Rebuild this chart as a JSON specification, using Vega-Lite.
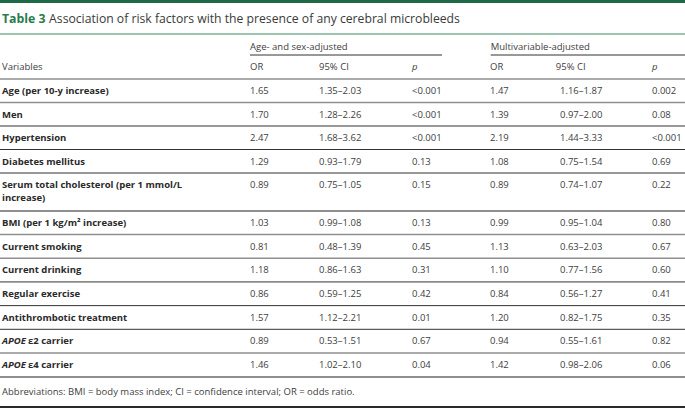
{
  "$schema": "https://vega.github.io/schema/vega-lite/v6.json",
  "width": 685,
  "height": 409,
  "padding": 0,
  "autosize": {"type": "none"},
  "background": "white",
  "config": {
    "view": {"stroke": null},
    "text": {"font": "Open Sans", "fontSize": 9.5, "color": "#404040", "align": "left", "baseline": "middle"},
    "axis": {"disable": true}
  },
  "datasets": {
    "one": [{}],
    "rows": [
      {"var": "Age (per 10-y increase)", "or1": "1.65", "ci1": "1.35–2.03", "p1": "<0.001", "or2": "1.47", "ci2": "1.16–1.87", "p2": "0.002"},
      {"var": "Men", "or1": "1.70", "ci1": "1.28–2.26", "p1": "<0.001", "or2": "1.39", "ci2": "0.97–2.00", "p2": "0.08"},
      {"var": "Hypertension", "or1": "2.47", "ci1": "1.68–3.62", "p1": "<0.001", "or2": "2.19", "ci2": "1.44–3.33", "p2": "<0.001"},
      {"var": "Diabetes mellitus", "or1": "1.29", "ci1": "0.93–1.79", "p1": "0.13", "or2": "1.08", "ci2": "0.75–1.54", "p2": "0.69"},
      {"var": "Serum total cholesterol (per 1 mmol/L\nincrease)", "or1": "0.89", "ci1": "0.75–1.05", "p1": "0.15", "or2": "0.89", "ci2": "0.74–1.07", "p2": "0.22"},
      {"var": "BMI (per 1 kg/m² increase)", "or1": "1.03", "ci1": "0.99–1.08", "p1": "0.13", "or2": "0.99", "ci2": "0.95–1.04", "p2": "0.80"},
      {"var": "Current smoking", "or1": "0.81", "ci1": "0.48–1.39", "p1": "0.45", "or2": "1.13", "ci2": "0.63–2.03", "p2": "0.67"},
      {"var": "Current drinking", "or1": "1.18", "ci1": "0.86–1.63", "p1": "0.31", "or2": "1.10", "ci2": "0.77–1.56", "p2": "0.60"},
      {"var": "Regular exercise", "or1": "0.86", "ci1": "0.59–1.25", "p1": "0.42", "or2": "0.84", "ci2": "0.56–1.27", "p2": "0.41"},
      {"var": "Antithrombotic treatment", "or1": "1.57", "ci1": "1.12–2.21", "p1": "0.01", "or2": "1.20", "ci2": "0.82–1.75", "p2": "0.35"},
      {"var": "ε2 carrier", "ital": "APOE", "or1": "0.89", "ci1": "0.53–1.51", "p1": "0.67", "or2": "0.94", "ci2": "0.55–1.61", "p2": "0.82"},
      {"var": "ε4 carrier", "ital": "APOE", "or1": "1.46", "ci1": "1.02–2.10", "p1": "0.04", "or2": "1.42", "ci2": "0.98–2.06", "p2": "0.06"}
    ]
  },
  "layer": [
    {
      "data": {"name": "one"},
      "mark": {"type": "rule", "color": "#1f6b47", "strokeWidth": 3},
      "encoding": {
        "x": {"datum": -1, "type": "quantitative", "axis": null, "scale": {"type": "linear", "domain": [-1, 0, 1, 2, 3, 4, 5, 6, 7], "range": [0, 2, 250, 319, 412, 490, 560, 652, 685], "zero": false, "nice": false}},
        "x2": {"datum": 7},
        "y": {"datum": -6, "type": "quantitative", "axis": null, "scale": {"type": "linear", "domain": [-6, -5, -4, -3, -2, -1, -0.5, 1, 5, 5.5, 12, 12.5, 13, 14], "range": [1.5, 19, 34, 47, 55, 67, 79, 91, 185, 211, 365, 377, 392, 407], "zero": false, "nice": false}}
      }
    },
    {
      "data": {"name": "one"},
      "mark": {"type": "rule", "color": "#3d8a60", "strokeWidth": 1.2},
      "encoding": {"x": {"datum": -1, "type": "quantitative"}, "x2": {"datum": 7}, "y": {"datum": -4, "type": "quantitative"}}
    },
    {
      "data": {"name": "one"},
      "mark": {"type": "text", "text": "Table 3", "fontWeight": "bold", "fontSize": 12.3, "color": "#2b7a4f"},
      "encoding": {"x": {"datum": 0, "type": "quantitative"}, "y": {"datum": -5, "type": "quantitative"}}
    },
    {
      "data": {"name": "one"},
      "mark": {"type": "text", "text": "Association of risk factors with the presence of any cerebral microbleeds", "fontSize": 12.2, "color": "#3a3a3a"},
      "encoding": {"x": {"datum": 0.19, "type": "quantitative"}, "y": {"datum": -5, "type": "quantitative"}}
    },
    {
      "data": {"name": "one"},
      "mark": {"type": "text", "text": "Age- and sex-adjusted"},
      "encoding": {"x": {"datum": 1, "type": "quantitative"}, "y": {"datum": -3, "type": "quantitative"}}
    },
    {
      "data": {"name": "one"},
      "mark": {"type": "text", "text": "Multivariable-adjusted"},
      "encoding": {"x": {"datum": 4.01, "type": "quantitative"}, "y": {"datum": -3, "type": "quantitative"}}
    },
    {
      "data": {"name": "one"},
      "mark": {"type": "rule", "color": "#333333", "strokeWidth": 1},
      "encoding": {"x": {"datum": 1, "type": "quantitative"}, "x2": {"datum": 3.385}, "y": {"datum": -2, "type": "quantitative"}}
    },
    {
      "data": {"name": "one"},
      "mark": {"type": "rule", "color": "#333333", "strokeWidth": 1},
      "encoding": {"x": {"datum": 4.01, "type": "quantitative"}, "x2": {"datum": 7}, "y": {"datum": -2, "type": "quantitative"}}
    },
    {
      "data": {"name": "one"},
      "mark": {"type": "text", "text": "Variables"},
      "encoding": {"x": {"datum": 0, "type": "quantitative"}, "y": {"datum": -1, "type": "quantitative"}}
    },
    {
      "data": {"name": "one"},
      "mark": {"type": "text", "text": "OR"},
      "encoding": {"x": {"datum": 1, "type": "quantitative"}, "y": {"datum": -1, "type": "quantitative"}}
    },
    {
      "data": {"name": "one"},
      "mark": {"type": "text", "text": "95% CI"},
      "encoding": {"x": {"datum": 2, "type": "quantitative"}, "y": {"datum": -1, "type": "quantitative"}}
    },
    {
      "data": {"name": "one"},
      "mark": {"type": "text", "text": "p", "fontStyle": "italic"},
      "encoding": {"x": {"datum": 3, "type": "quantitative"}, "y": {"datum": -1, "type": "quantitative"}}
    },
    {
      "data": {"name": "one"},
      "mark": {"type": "text", "text": "OR"},
      "encoding": {"x": {"datum": 4, "type": "quantitative"}, "y": {"datum": -1, "type": "quantitative"}}
    },
    {
      "data": {"name": "one"},
      "mark": {"type": "text", "text": "95% CI"},
      "encoding": {"x": {"datum": 4.94, "type": "quantitative"}, "y": {"datum": -1, "type": "quantitative"}}
    },
    {
      "data": {"name": "one"},
      "mark": {"type": "text", "text": "p", "fontStyle": "italic"},
      "encoding": {"x": {"datum": 6, "type": "quantitative"}, "y": {"datum": -1, "type": "quantitative"}}
    },
    {
      "data": {"name": "rows"},
      "transform": [{"window": [{"op": "row_number", "as": "row"}]}, {"filter": {"field": "row", "oneOf": [1, 2, 7, 8, 12]}}],
      "mark": {"type": "rule", "color": "#8f8f8f", "strokeWidth": 1.5, "yOffset": -12},
      "encoding": {"x": {"datum": -1, "type": "quantitative"}, "x2": {"datum": 7}, "y": {"field": "row", "type": "quantitative"}}
    },
    {
      "data": {"name": "rows"},
      "transform": [{"window": [{"op": "row_number", "as": "row"}]}, {"filter": {"field": "row", "oneOf": [3, 4, 5, 9, 10, 11]}}],
      "mark": {"type": "rule", "color": "#333333", "strokeWidth": 1, "yOffset": -12},
      "encoding": {"x": {"datum": -1, "type": "quantitative"}, "x2": {"datum": 7}, "y": {"field": "row", "type": "quantitative"}}
    },
    {
      "data": {"name": "one"},
      "mark": {"type": "rule", "color": "#8f8f8f", "strokeWidth": 2},
      "encoding": {"x": {"datum": -1, "type": "quantitative"}, "x2": {"datum": 7}, "y": {"datum": 5.5, "type": "quantitative"}}
    },
    {
      "data": {"name": "one"},
      "mark": {"type": "rule", "color": "#8f8f8f", "strokeWidth": 2},
      "encoding": {"x": {"datum": -1, "type": "quantitative"}, "x2": {"datum": 7}, "y": {"datum": 12.5, "type": "quantitative"}}
    },
    {
      "data": {"name": "one"},
      "mark": {"type": "rule", "color": "#2a2a2a", "strokeWidth": 2},
      "encoding": {"x": {"datum": -1, "type": "quantitative"}, "x2": {"datum": 7}, "y": {"datum": 14, "type": "quantitative"}}
    },
    {
      "data": {"name": "rows"},
      "transform": [{"window": [{"op": "row_number", "as": "row"}]}, {"filter": "!datum.ital"}],
      "mark": {"type": "text", "fontWeight": "bold", "color": "#2a2a2a", "baseline": "alphabetic", "dy": 3, "lineBreak": "\n", "lineHeight": 13},
      "encoding": {"x": {"datum": 0, "type": "quantitative"}, "y": {"field": "row", "type": "quantitative"}, "text": {"field": "var"}}
    },
    {
      "data": {"name": "rows"},
      "transform": [{"window": [{"op": "row_number", "as": "row"}]}, {"filter": "datum.ital"}],
      "mark": {"type": "text", "fontWeight": "bold", "fontStyle": "italic", "color": "#2a2a2a"},
      "encoding": {"x": {"datum": 0, "type": "quantitative"}, "y": {"field": "row", "type": "quantitative"}, "text": {"field": "ital"}}
    },
    {
      "data": {"name": "rows"},
      "transform": [{"window": [{"op": "row_number", "as": "row"}]}, {"filter": "datum.ital"}],
      "mark": {"type": "text", "fontWeight": "bold", "color": "#2a2a2a", "dx": 26},
      "encoding": {"x": {"datum": 0, "type": "quantitative"}, "y": {"field": "row", "type": "quantitative"}, "text": {"field": "var"}}
    },
    {
      "data": {"name": "rows"},
      "transform": [{"window": [{"op": "row_number", "as": "row"}]}],
      "mark": {"type": "text"},
      "encoding": {"x": {"datum": 1, "type": "quantitative"}, "y": {"field": "row", "type": "quantitative"}, "text": {"field": "or1"}}
    },
    {
      "data": {"name": "rows"},
      "transform": [{"window": [{"op": "row_number", "as": "row"}]}],
      "mark": {"type": "text"},
      "encoding": {"x": {"datum": 2, "type": "quantitative"}, "y": {"field": "row", "type": "quantitative"}, "text": {"field": "ci1"}}
    },
    {
      "data": {"name": "rows"},
      "transform": [{"window": [{"op": "row_number", "as": "row"}]}],
      "mark": {"type": "text"},
      "encoding": {"x": {"datum": 3, "type": "quantitative"}, "y": {"field": "row", "type": "quantitative"}, "text": {"field": "p1"}}
    },
    {
      "data": {"name": "rows"},
      "transform": [{"window": [{"op": "row_number", "as": "row"}]}],
      "mark": {"type": "text"},
      "encoding": {"x": {"datum": 4, "type": "quantitative"}, "y": {"field": "row", "type": "quantitative"}, "text": {"field": "or2"}}
    },
    {
      "data": {"name": "rows"},
      "transform": [{"window": [{"op": "row_number", "as": "row"}]}],
      "mark": {"type": "text"},
      "encoding": {"x": {"datum": 5, "type": "quantitative"}, "y": {"field": "row", "type": "quantitative"}, "text": {"field": "ci2"}}
    },
    {
      "data": {"name": "rows"},
      "transform": [{"window": [{"op": "row_number", "as": "row"}]}],
      "mark": {"type": "text"},
      "encoding": {"x": {"datum": 6, "type": "quantitative"}, "y": {"field": "row", "type": "quantitative"}, "text": {"field": "p2"}}
    },
    {
      "data": {"name": "one"},
      "mark": {"type": "text", "text": "Abbreviations: BMI = body mass index; CI = confidence interval; OR = odds ratio."},
      "encoding": {"x": {"datum": 0, "type": "quantitative"}, "y": {"datum": 13, "type": "quantitative"}}
    }
  ]
}
